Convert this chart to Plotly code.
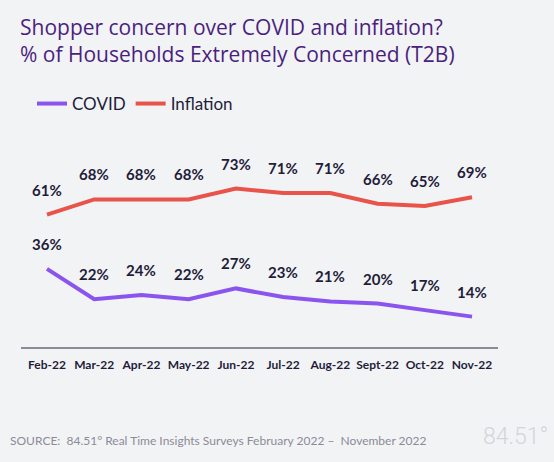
import plotly.graph_objects as go

months = ["Feb-22", "Mar-22", "Apr-22", "May-22", "Jun-22", "Jul-22", "Aug-22", "Sept-22", "Oct-22", "Nov-22"]
covid = [36, 22, 24, 22, 27, 23, 21, 20, 17, 14]
inflation = [61, 68, 68, 68, 73, 71, 71, 66, 65, 69]

COVID_COLOR = "#8a55ee"
INFL_COLOR = "#e8534a"
BG = "#f2f3f5"
LABEL_COLOR = "#1f1d3a"
FONT = "Lato"
TITLE_FONT = "Open Sans"

L, R, T, B = 21, 56, 130, 115
W, H = 554, 462
PW, PH = W - L - R, H - T - B


def px_x(x):
    return (x - L) / PW


def px_y(y):
    return (H - B - y) / PH


fig = go.Figure()
fig.add_trace(go.Scatter(x=months, y=covid, name="COVID", mode="lines",
                         line=dict(color=COVID_COLOR, width=4)))
fig.add_trace(go.Scatter(x=months, y=inflation, name="Inflation", mode="lines",
                         line=dict(color=INFL_COLOR, width=4)))

annotations = []
for series in (covid, inflation):
    for m, v in zip(months, series):
        annotations.append(dict(x=m, y=v, text=f"{v}%", showarrow=False,
                                yshift=25, font=dict(family=FONT, size=15, color=LABEL_COLOR, weight="bold")))

title_lines = ["Shopper concern over COVID and inflation?",
               "% of Households Extremely Concerned (T2B)"]
for i, t in enumerate(title_lines):
    annotations.append(dict(xref="paper", yref="paper", x=px_x(18), y=px_y(27 + 27 * i),
                            xanchor="left", yanchor="middle", text=t, showarrow=False,
                            font=dict(family=TITLE_FONT, size=21, color="#4b1f7d")))

annotations.append(dict(xref="paper", yref="paper", x=px_x(8), y=px_y(440), xanchor="left", yanchor="middle",
                        text="SOURCE:  84.51° Real Time Insights Surveys February 2022 –  November 2022",
                        showarrow=False, font=dict(family=FONT, size=12, color="#8c8b97")))
annotations.append(dict(xref="paper", yref="paper", x=px_x(550), y=px_y(436), xanchor="right", yanchor="middle",
                        text="84.51°", showarrow=False,
                        font=dict(family="Roboto", size=23, color="#d3d5db", weight=300)))

fig.update_layout(
    width=W, height=H,
    paper_bgcolor=BG, plot_bgcolor=BG,
    margin=dict(l=L, r=R, t=T, b=B, autoexpand=False),
    showlegend=True,
    legend=dict(orientation="h", x=px_x(32), y=px_y(104), xanchor="left", yanchor="middle",
                font=dict(family=FONT, size=17, color=LABEL_COLOR), bgcolor="rgba(0,0,0,0)",
                itemwidth=30),
    xaxis=dict(type="category", range=[-0.55, 9.55], showgrid=False, zeroline=False,
               showline=True, linecolor="#8a8a98", linewidth=2, ticks="",
               tickfont=dict(family=FONT, size=12, color=LABEL_COLOR, weight="bold"),
               ticklabelstandoff=6, automargin=False),
    yaxis=dict(range=[0, 100], visible=False),
    annotations=annotations,
)

fig.write_html("out.html", config={"displayModeBar": False},
               post_script="document.body.style.margin='0';document.body.style.background='%s';" % BG)
